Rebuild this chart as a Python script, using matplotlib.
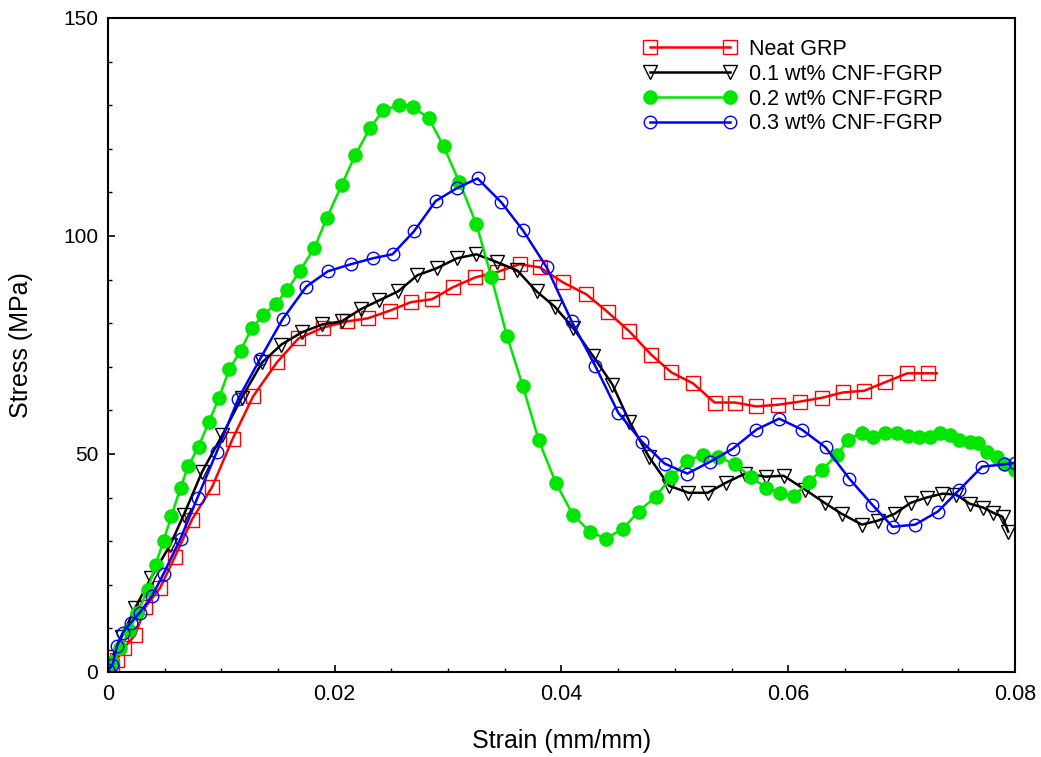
import matplotlib
matplotlib.use("Agg")
import matplotlib.pyplot as plt
from matplotlib.ticker import MultipleLocator

plt.rcParams['font.family'] = ['Liberation Sans', 'DejaVu Sans']

# ---- data (strain mm/mm, stress MPa) ----
neat_strain = [0.0, 0.0004, 0.0008, 0.0014, 0.0024, 0.0033, 0.0046, 0.0059, 0.0074, 0.0092,
               0.0110, 0.0128, 0.0149, 0.0168, 0.0190, 0.0211, 0.0229, 0.0249, 0.0267, 0.0286,
               0.0304, 0.0324, 0.0343, 0.0363, 0.0381, 0.0401, 0.0422, 0.0441, 0.0460, 0.0479,
               0.0497, 0.0516, 0.0535, 0.0553, 0.0572, 0.0591, 0.0610, 0.0630, 0.0648, 0.0667,
               0.0685, 0.0705, 0.0723, 0.0731]
neat_stress = [0.0, 1.4, 2.8, 5.5, 8.5, 14.9, 19.3, 26.4, 34.9, 42.5,
               53.5, 63.2, 71.0, 76.5, 79.0, 80.4, 81.1, 82.9, 84.8, 85.5,
               88.2, 90.5, 91.7, 93.5, 92.8, 89.4, 86.6, 82.5, 78.1, 72.8,
               68.7, 66.2, 61.8, 61.8, 60.9, 61.3, 62.0, 62.9, 64.1, 64.5,
               66.4, 68.5, 68.5, 68.5]

cnf01_strain = [0.0, 0.0004, 0.0012, 0.0024, 0.0038, 0.0055, 0.0067, 0.0083, 0.0101, 0.0118,
                0.0136, 0.0153, 0.0171, 0.0189, 0.0206, 0.0223, 0.0239, 0.0256, 0.0273, 0.0290,
                0.0308, 0.0325, 0.0343, 0.0361, 0.0378, 0.0394, 0.0410, 0.0428, 0.0445, 0.0460,
                0.0477, 0.0495, 0.0512, 0.0529, 0.0545, 0.0562, 0.0580, 0.0596, 0.0615, 0.0632,
                0.0647, 0.0665, 0.0679, 0.0694, 0.0708, 0.0722, 0.0736, 0.0748, 0.0760, 0.0772,
                0.0781, 0.0789, 0.0794]
cnf01_stress = [0.5, 3.4, 8.0, 14.7, 21.6, 29.2, 36.1, 45.9, 54.4, 62.9,
                71.0, 75.1, 77.9, 79.7, 80.4, 83.2, 85.2, 87.3, 91.0, 92.6,
                94.9, 95.8, 94.0, 92.1, 87.3, 83.8, 79.0, 72.4, 65.9, 57.4,
                49.4, 42.7, 41.1, 41.1, 43.4, 45.5, 44.8, 45.0, 41.8, 38.8,
                36.3, 33.8, 34.7, 36.3, 38.8, 40.0, 40.9, 40.7, 38.6, 37.7,
                36.5, 35.6, 32.2]

cnf02_strain = [0.0, 0.0004, 0.0011, 0.0019, 0.0026, 0.0035, 0.0042, 0.0049, 0.0056, 0.0064,
                0.0071, 0.0080, 0.0089, 0.0098, 0.0107, 0.0117, 0.0127, 0.0137, 0.0148, 0.0158,
                0.0169, 0.0182, 0.0193, 0.0206, 0.0218, 0.0231, 0.0243, 0.0257, 0.0269, 0.0283,
                0.0296, 0.0310, 0.0325, 0.0338, 0.0352, 0.0366, 0.0380, 0.0395, 0.0410, 0.0425,
                0.0439, 0.0454, 0.0468, 0.0483, 0.0497, 0.0511, 0.0525, 0.0538, 0.0553, 0.0567,
                0.0580, 0.0593, 0.0605, 0.0618, 0.0630, 0.0643, 0.0653, 0.0665, 0.0675, 0.0685,
                0.0696, 0.0706, 0.0715, 0.0725, 0.0734, 0.0743, 0.0751, 0.0760, 0.0767, 0.0775,
                0.0784, 0.0791, 0.0800]
cnf02_stress = [0.5, 2.3, 5.5, 9.6, 13.6, 18.8, 24.6, 30.1, 35.8, 42.3,
                47.3, 51.7, 57.4, 62.9, 69.4, 73.7, 79.0, 81.8, 84.5, 87.5,
                91.9, 97.2, 104.1, 111.6, 118.5, 124.7, 128.9, 130.0, 129.6, 127.0,
                120.6, 112.3, 102.7, 90.7, 77.0, 65.5, 53.1, 43.4, 36.1, 32.2,
                30.6, 32.8, 36.8, 40.2, 44.8, 48.5, 49.8, 49.4, 47.6, 44.8,
                42.3, 41.1, 40.4, 43.6, 46.4, 49.8, 53.3, 54.9, 54.0, 54.9,
                54.9, 54.2, 54.0, 54.0, 54.9, 54.4, 53.1, 52.8, 52.6, 50.5,
                49.2, 47.6, 46.4]

cnf03_strain = [0.0, 0.0004, 0.0008, 0.0013, 0.0020, 0.0028, 0.0039, 0.0049, 0.0064, 0.0079,
                0.0096, 0.0115, 0.0134, 0.0154, 0.0175, 0.0194, 0.0214, 0.0234, 0.0251, 0.0270,
                0.0289, 0.0308, 0.0326, 0.0347, 0.0366, 0.0387, 0.0409, 0.0430, 0.0450, 0.0471,
                0.0491, 0.0511, 0.0531, 0.0551, 0.0572, 0.0592, 0.0612, 0.0633, 0.0654, 0.0674,
                0.0692, 0.0712, 0.0732, 0.0751, 0.0771, 0.0790, 0.0800]
cnf03_stress = [0.5, 1.6, 6.0, 9.0, 11.3, 13.6, 17.5, 22.5, 30.6, 40.0,
                50.5, 62.7, 71.7, 80.9, 88.4, 91.9, 93.5, 94.9, 95.8, 101.1,
                108.0, 111.0, 113.2, 107.7, 101.3, 92.8, 80.4, 70.1, 59.5, 52.8,
                47.8, 45.5, 48.2, 51.2, 55.6, 58.1, 55.6, 51.5, 44.3, 38.4,
                33.3, 33.8, 36.8, 41.8, 47.1, 47.6, 48.0]

labels = ['Neat GRP', '0.1 wt% CNF-FGRP', '0.2 wt% CNF-FGRP', '0.3 wt% CNF-FGRP']
xtick_vals = [0, 0.02, 0.04, 0.06, 0.08]
xtick_labels = ['0', '0.02', '0.04', '0.06', '0.08']
ytick_vals = [0, 50, 100, 150]

fig = plt.figure(figsize=(10.41, 7.57), dpi=100)
ax = fig.add_axes([0.1037, 0.1123, 0.8713, 0.864])

ax.plot(neat_strain, neat_stress, color='#ff0000', lw=1.8, marker='s', ms=9.5,
        mfc='none', mec='#ff0000', mew=1.0, markevery=slice(0, -1), label=labels[0])
ax.plot(cnf01_strain, cnf01_stress, color='black', lw=1.8, marker='v', ms=9.5,
        mfc='none', mec='black', mew=1.0, label=labels[1])
ax.plot(cnf02_strain, cnf02_stress, color='#00e600', lw=1.8, marker='o', ms=9.5,
        mfc='#00e600', mec='#00e600', label=labels[2])
ax.plot(cnf03_strain, cnf03_stress, color='#0000ff', lw=1.8, marker='o', ms=9.0,
        mfc='none', mec='#0000ff', mew=1.0, label=labels[3])

ax.set_xlim(0, 0.08)
ax.set_ylim(0, 150)
ax.set_xticks(xtick_vals)
ax.set_xticklabels(xtick_labels, fontsize=15.5)
ax.set_yticks(ytick_vals)
ax.set_yticklabels([str(v) for v in ytick_vals], fontsize=15)
ax.xaxis.set_minor_locator(MultipleLocator(0.005))
ax.yaxis.set_minor_locator(MultipleLocator(10))
ax.tick_params(which='major', direction='in', length=5, width=1.2)
ax.tick_params(which='minor', direction='in', length=3, width=1.0)
ax.tick_params(axis='x', pad=9)
ax.tick_params(axis='y', pad=7)
for s in ax.spines.values():
    s.set_linewidth(1.5)

ax.set_xlabel('Strain (mm/mm)', fontsize=18, labelpad=17)
ax.set_ylabel('Stress (MPa)', fontsize=18)
ax.yaxis.set_label_coords(-0.0827, 0.5)

leg = ax.legend(loc='upper left', bbox_to_anchor=(0.5905, 0.968), frameon=False,
                fontsize=15.5, handlelength=4.3, handletextpad=0.6, labelspacing=0.18,
                numpoints=2, borderpad=0, borderaxespad=0)

fig.savefig('out.png', dpi=100)
